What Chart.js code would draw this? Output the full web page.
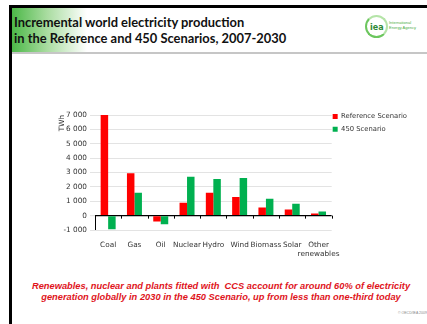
<!DOCTYPE html>
<html>
<head>
<meta charset="utf-8">
<script src="https://cdn.jsdelivr.net/npm/chart.js@4"></script>
<style>
    html, body { margin: 0; padding: 0; background: #fff; }
    body { width: 427px; height: 324px; position: relative; overflow: hidden; font-family: 'Liberation Sans', Arial, sans-serif; }
    .frame-top { position: absolute; left: 9px; top: 5px; width: 418px; height: 3px; background: #000; }
    .frame-left { position: absolute; left: 9px; top: 5px; width: 3px; height: 319px; background: #000; }
    .header { position: absolute; left: 12px; top: 8px; width: 415px; height: 44px; background: linear-gradient(to right, #4cb848 0px, #a9dca0 35px, #fff 75px); }
    .header-line { position: absolute; left: 12px; top: 52px; width: 415px; height: 2px; background: #c6c6c6; }
    .title { position: absolute; left: 14px; top: 14px; font-family: Lato, sans-serif; font-weight: 700; font-size: 12.9px; line-height: 16px; color: #111; }
    .logo { position: absolute; left: 365px; top: 15px; width: 19px; height: 19px; border-radius: 50%; border: 2px solid #b5e4a8; border-left-color: #6cc65e; border-bottom-color: #6cc65e; }
    .logo span { position: absolute; left: 3px; top: 6px; font-family: 'DejaVu Sans', sans-serif; font-weight: 700; font-size: 8px; color: #2f8a36; }
    .agency { position: absolute; left: 389px; top: 20px; font-size: 4px; line-height: 5px; color: #4cae45; }
    #chart-box { position: absolute; left: 40px; top: 100px; width: 382px; height: 162px; }
    .note { position: absolute; left: 12px; width: 418px; top: 281px; text-align: center; font-weight: 700; font-style: italic; font-size: 9.3px; line-height: 11px; color: #e0141c; }
    .copy { position: absolute; left: 398px; top: 311px; font-size: 3.5px; color: #888; }
</style>
</head>
<body>
<div class="header"></div>
<div class="frame-top"></div>
<div class="frame-left"></div>
<div class="header-line"></div>
<div class="title">Incremental world electricity production<br>in the Reference and 450 Scenarios, 2007-2030</div>
<div class="logo"><span>iea</span></div>
<div class="agency">International<br>Energy Agency</div>
<div id="chart-box"><canvas id="chart"></canvas></div>
<div class="note">Renewables, nuclear and plants fitted with&nbsp; CCS account for around 60% of electricity<br>generation globally in 2030 in the 450 Scenario, up from less than one-third today</div>
<div class="copy">© OECD/IEA 2009</div>

<script>
const categories = ['Coal', 'Gas', 'Oil', 'Nuclear', 'Hydro', 'Wind', 'Biomass', 'Solar', ['Other', 'renewables']];
const referenceScenario = [7000, 2950, -400, 900, 1600, 1300, 560, 420, 150];
const scenario450 = [-950, 1600, -600, 2700, 2550, 2620, 1180, 830, 280];
const yTicks = [-1000, 0, 1000, 2000, 3000, 4000, 5000, 6000, 7000];

const labelFont = { family: "'DejaVu Sans', sans-serif", size: 7.3 };
const legendFont = { family: "'DejaVu Sans', sans-serif", size: 6.8 };

// tick marks on the zero line, between categories
const zeroTicks = {
    id: 'zeroTicks',
    afterLayout(chart) {
        // lift the legend so its first row sits level with the top gridline
        chart.legend.top -= 8;
        chart.legend.bottom -= 8;
        chart.legend.left -= 5;
        chart.legend.right -= 5;
    },
    afterDatasetsDraw(chart) {
        const { ctx, scales: { x, y } } = chart;
        const y0 = y.getPixelForValue(0);
        const step = x.getPixelForValue(1) - x.getPixelForValue(0);
        ctx.save();
        ctx.strokeStyle = '#000';
        ctx.lineWidth = 1;
        ctx.beginPath();
        for (let i = 0; i <= categories.length; i++) {
            const px = Math.round(x.getPixelForValue(0) - step / 2 + i * step) + 0.5;
            ctx.moveTo(px, y0);
            ctx.lineTo(px, y0 + 3);
        }
        const left = Math.round(x.left) + 0.5;
        ctx.moveTo(left, y0);
        ctx.lineTo(left, y.getPixelForValue(-1000));
        ctx.stroke();
        ctx.restore();
    }
};

function formatTick(value) {
    if (value === 0) return '0';
    const sign = value < 0 ? '-' : '';
    return sign + Math.abs(value / 1000) + ' 000';
}

document.addEventListener('DOMContentLoaded', () => {
    const ctx = document.getElementById('chart').getContext('2d');

    new Chart(ctx, {
        type: 'bar',
        data: {
            labels: categories,
            datasets: [{
                label: 'Reference Scenario',
                data: referenceScenario,
                backgroundColor: '#ff0000'
            }, {
                label: '450 Scenario',
                data: scenario450,
                backgroundColor: '#00b050'
            }]
        },
        options: {
            responsive: true,
            maintainAspectRatio: false,
            animation: false,
            layout: {
                padding: { left: 18, top: 15, right: 0, bottom: 0 }
            },
            datasets: {
                bar: {
                    categoryPercentage: 0.57,
                    barPercentage: 1.0
                }
            },
            scales: {
                x: {
                    grid: { display: false },
                    border: { display: false },
                    ticks: {
                        font: labelFont,
                        color: '#333',
                        padding: 3,
                        maxRotation: 0,
                        autoSkip: false
                    },
                    afterFit: (scale) => { scale.height = 32; }
                },
                y: {
                    min: -1000,
                    max: 7000,
                    afterBuildTicks: (scale) => {
                        scale.ticks = yTicks.map(v => ({ value: v }));
                    },
                    afterFit: (scale) => { scale.width = 37; },
                    border: { display: false },
                    grid: {
                        color: (c) => c.tick && c.tick.value === 0 ? '#000' : '#e3e3e3',
                        lineWidth: (c) => c.tick && c.tick.value === 0 ? 1.2 : 1,
                        tickColor: '#e3e3e3',
                        tickLength: 5
                    },
                    ticks: {
                        font: labelFont,
                        color: '#333',
                        padding: 3,
                        callback: (value) => formatTick(value)
                    },
                    title: {
                        display: true,
                        text: 'TWh',
                        align: 'end',
                        font: labelFont,
                        color: '#333',
                        padding: 0
                    }
                }
            },
            plugins: {
                legend: {
                    position: 'right',
                    align: 'start',
                    labels: {
                        boxWidth: 5,
                        boxHeight: 5,
                        padding: 6,
                        font: legendFont,
                        color: '#333'
                    }
                },
                tooltip: { enabled: false }
            }
        },
        plugins: [zeroTicks]
    });
});
</script>
</body>
</html>
